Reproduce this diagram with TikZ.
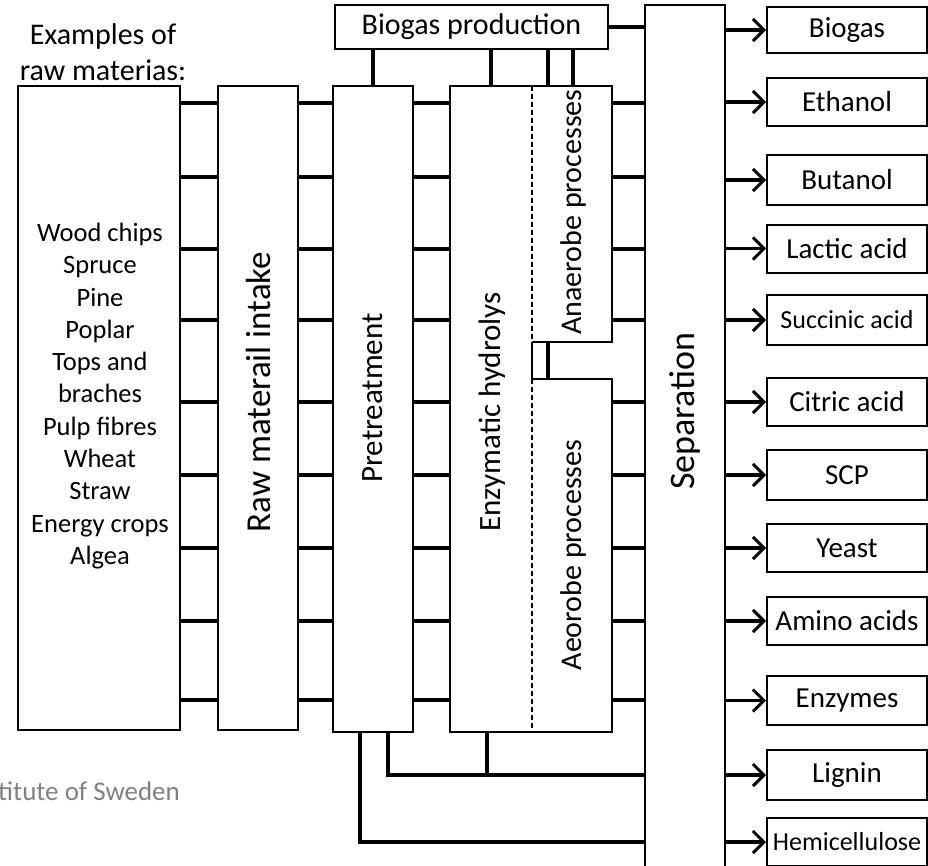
\documentclass[tikz,border=0pt]{standalone}
\usepackage{fontspec}
\setmainfont{Carlito}
\usetikzlibrary{arrows.meta}
\begin{document}
\begin{tikzpicture}[x=1pt,y=-1pt,
  box/.style={draw, line width=2pt, fill=white, inner sep=0pt, align=center},
  plain/.style={inner sep=0pt},
  conn/.style={line width=3.5pt},
  thin/.style={line width=2pt},
  arr/.style={line width=3.5pt, -{Straight Barb[length=11pt,width=22pt,line width=3pt]}},
  lbl/.style={font=\fontsize{30}{36}\selectfont, inner sep=0pt, align=center},
  vlbl/.style={lbl, rotate=90},
  outbox/.style={box, minimum width=160pt, minimum height=48pt, font=\fontsize{29}{34}\selectfont},
]
\useasboundingbox (0,0) rectangle (928,865);

% title
\node[lbl] (title) at (103,52) {Examples of\\raw materias:};

% raw material box
\node[box, minimum width=162pt, minimum height=644pt] (raw) at (99,408) {};
\node[plain, align=center, font=\fontsize{26.5}{32.3}\selectfont] (rawlist) at (100,396)
  {Wood chips\\Spruce\\Pine\\Poplar\\Tops and\\braches\\Pulp fibres\\Wheat\\Straw\\Energy crops\\Algea};

% raw material intake
\node[box, minimum width=80pt, minimum height=644pt] (intake) at (258,408) {};
\node[vlbl, font=\fontsize{35}{40}\selectfont] (intakelbl) at (258,392) {Raw materail intake};

% pretreatment
\node[box, minimum width=80pt, minimum height=646pt] (pre) at (373,409) {};
\node[vlbl, font=\fontsize{31}{36}\selectfont] (prelbl) at (373,398) {Pretreatment};

% enzymatic hydrolys + anaerobe / aerobe
\node[plain, minimum width=82pt, minimum height=646pt] (enz) at (491,409) {};
\node[plain, minimum width=80pt, minimum height=256pt] (ana) at (572,214) {};
\node[plain, minimum width=80pt, minimum height=353pt] (aer) at (572,555.5) {};
\draw[thin] (enz.north east) -- (enz.north west) -- (enz.south west) -- (enz.south east);
\draw[thin] (ana.north west) -- (ana.north east) -- (ana.south east) -- (ana.south west);
\draw[thin] (aer.north west) -- (aer.north east) -- (aer.south east) -- (aer.south west);
\draw[thin, dash pattern=on 5pt off 3pt] (ana.north west) -- (ana.south west);
\draw[thin] (ana.south west) -- (aer.north west);
\draw[thin, dash pattern=on 5pt off 3pt] (aer.north west) -- (aer.south west);
\node[vlbl, font=\fontsize{31}{36}\selectfont] (enzlbl) at (492,412) {Enzymatic hydrolys};
\node[vlbl] (analbl) at (573,212) {Anaerobe processes};
\node[vlbl] (aerlbl) at (573,555) {Aeorobe processes};
\coordinate (link) at (548,0);
\draw[conn] (ana.south -| link) -- (aer.north -| link);

% separation
\node[box, minimum width=80pt, minimum height=870pt] (sep) at (685,440) {};
\node[vlbl, font=\fontsize{36}{40}\selectfont] (seplbl) at (685,411) {Separation};

% biogas production
\node[box, minimum width=273pt, minimum height=44pt, font=\fontsize{30}{36}\selectfont] (bp) at (471.5,27) {Biogas production};
\coordinate (bpa) at (548,0);
\coordinate (bpb) at (573,0);
\draw[conn] (bp.south -| pre.north) -- (pre.north);
\draw[conn] (bp.south -| enz.north) -- (enz.north);
\draw[conn] (bp.south -| bpa) -- (ana.north -| bpa);
\draw[conn] (bp.south -| bpb) -- (ana.north -| bpb);
\draw[conn] (bp.east) -- (bp.east -| sep.west);

% row connectors
\foreach \i/\y in {1/103,2/177,3/249,4/320,5/402,6/475,7/548,8/621,9/700} {
  \coordinate (row\i) at (0,\y);
  \draw[conn] (raw.east |- row\i) -- (intake.west |- row\i);
  \draw[conn] (intake.east |- row\i) -- (pre.west |- row\i);
  \draw[conn] (pre.east |- row\i) -- (enz.west |- row\i);
}
\foreach \i in {1,2,3,4} \draw[conn] (ana.east |- row\i) -- (sep.west |- row\i);
\foreach \i in {5,6,7,8,9} \draw[conn] (aer.east |- row\i) -- (sep.west |- row\i);

% bottom return lines
\coordinate (h1) at (360,842);
\coordinate (h2) at (388,775);
\coordinate (h3) at (487,775);
\draw[conn] (pre.south -| h1) -- (h1) -- (h1 -| sep.west);
\draw[conn] (pre.south -| h2) -- (h2) -- (h2 -| sep.west);
\draw[conn] (enz.south -| h3) -- (h3);

% outputs
\node[outbox, minimum height=46pt] (o1) at (847,30) {Biogas};
\node[outbox] (o2) at (847,102) {Ethanol};
\node[outbox, minimum height=50pt] (o3) at (847,180) {Butanol};
\node[outbox] (o4) at (847,248.5) {Lactic acid};
\node[outbox, minimum height=50pt, font=\fontsize{26}{30}\selectfont] (o5) at (847,320) {Succinic acid};
\node[outbox] (o6) at (847,402) {Citric acid};
\node[outbox, minimum height=50pt] (o7) at (847,475) {SCP};
\node[outbox] (o8) at (847,548) {Yeast};
\node[outbox] (o9) at (847,621) {Amino acids};
\node[outbox, minimum height=49pt] (o10) at (847,700.5) {Enzymes};
\node[outbox, minimum height=50pt] (o11) at (847,775) {Lignin};
\node[outbox, font=\fontsize{26}{30}\selectfont] (o12) at (847,842) {Hemicellulose};
\foreach \i in {1,...,12} \draw[arr] (sep.east |- o\i.west) -- (o\i.west);

% watermark fragment
\node[plain, anchor=west, text=black!50, font=\fontsize{27}{30}\selectfont] (wm) at (-2,791) {titute of Sweden};
\end{tikzpicture}
\end{document}
